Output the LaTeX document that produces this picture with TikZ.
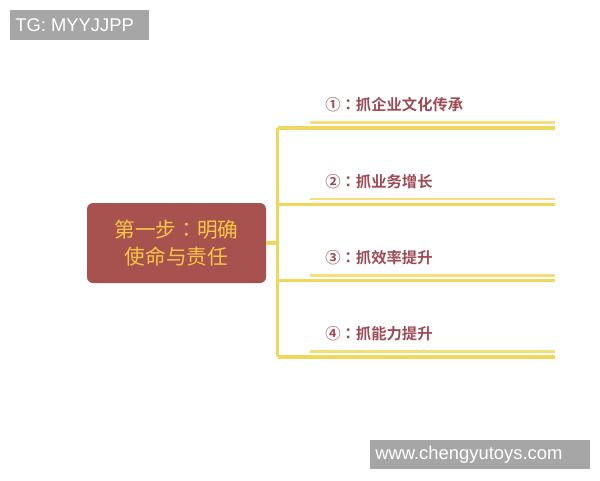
\documentclass[tikz,border=0pt]{standalone}
\usepackage{fontspec}
\setmainfont{Liberation Sans}
\newfontfamily\cjk{Noto Sans CJK SC}
\newfontfamily\cjkb{Noto Sans CJK SC Bold}
\newfontfamily\cjktc{Noto Sans CJK TC}
\newfontfamily\cjktcb{Noto Sans CJK TC Bold}
\newcommand{\mycolon}{{\cjktc ：}}
\newcommand{\mycolonb}{{\cjktcb ：}}
\definecolor{nodered}{HTML}{A8524F}
\definecolor{nodetext}{HTML}{F6C645}
\definecolor{labred}{HTML}{9E4A55}
\definecolor{branch}{HTML}{F0D65A}
\definecolor{branchlt}{HTML}{F2DE7A}
\definecolor{wmgray}{HTML}{A6A6A6}
\tikzset{
  px/.style={x=0.75pt,y=-0.75pt},
  central/.style={fill=nodered,rounded corners=4.5pt,minimum width=134.25pt,minimum height=60pt,
    text=nodetext,font=\cjk\fontsize{15.5pt}{20pt}\selectfont,align=center,inner sep=0pt},
  branchline/.style={draw=branch,line width=2.3pt},
  upperline/.style={draw=branchlt,line width=2pt},
  lab/.style={anchor=west,text=labred,font=\cjkb\fontsize{11.5pt}{14pt}\selectfont,inner sep=0pt},
  wm/.style={text=white,font=\fontsize{13.8pt}{16pt}\selectfont,inner sep=0pt,anchor=west}
}
\begin{document}
\begin{tikzpicture}[px]
\useasboundingbox[fill=white] (0,0) rectangle (600,480);
% watermark boxes
\fill[wmgray] (10,10) rectangle (149,40);
\node[wm] (tg) at (15,25.5) {TG: MYYJJPP};
\fill[wmgray] (370,440) rectangle (590,469);
\node[wm] (www) at (375,455) {www.chengyutoys.com};
% central node
\node[central] (c) at (176.5,243) {第一步\mycolon 明确\\使命与责任};
% trunk
\coordinate (j) at (277.5,243);
\coordinate (t1) at (277.5,128);
\coordinate (t4) at (277.5,357);
\draw[branchline] (c.east) -- (j);
\draw[branchline] (t1) -- (t4);
% branches
\foreach \i/\y/\n/\t in {1/128/①/抓企业文化传承,2/204.3/②/抓业务增长,3/280.7/③/抓效率提升,4/357/④/抓能力提升}{
  \coordinate (a\i) at (277.5,\y);
  \coordinate (b\i) at (555,\y);
  \coordinate (u\i) at (310,\y-5.2);
  \coordinate (v\i) at (555,\y-5.2);
  \draw[branchline] (a\i) -- (b\i);
  \draw[upperline] (u\i) -- (v\i);
  \node[lab] (l\i) at (325,\y-23) {\n\mycolonb\t};
}
\end{tikzpicture}
\end{document}
